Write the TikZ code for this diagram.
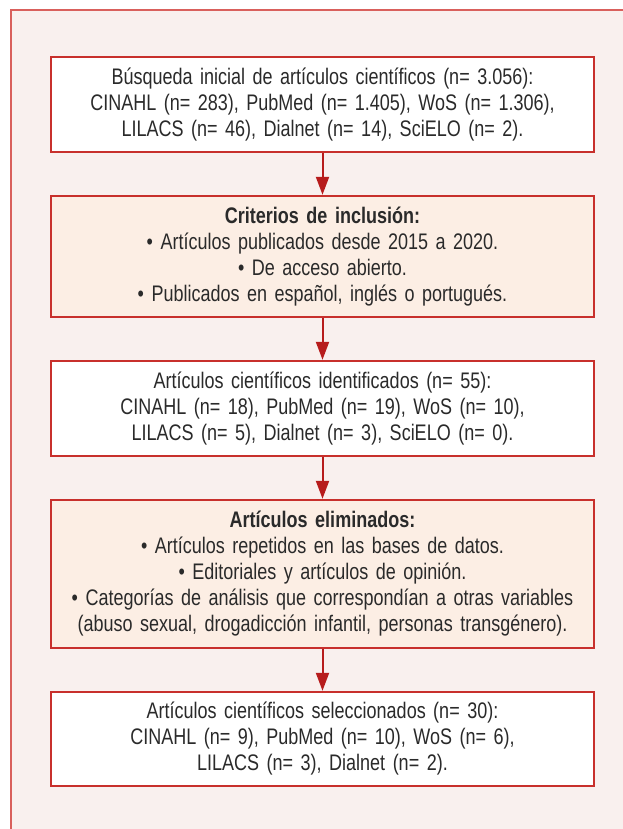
\documentclass[tikz,border=0pt]{standalone}
\usepackage{fontspec}
\setmainfont[FakeStretch=0.8]{Liberation Sans}
\usetikzlibrary{arrows.meta}
\definecolor{panelbg}{HTML}{F9F0EE}
\definecolor{panelline}{HTML}{D9605C}
\definecolor{boxline}{HTML}{C8302C}
\definecolor{peach}{HTML}{FCEEE4}
\definecolor{arrowred}{HTML}{B71C1C}
\definecolor{txt}{HTML}{2A2A2A}
\tikzset{
  x=1pt, y=1pt,
  flowbox/.style={draw=boxline, line width=1.4pt, fill=white, minimum width=543pt,
    text width=535pt, align=center, inner sep=0pt, text=txt,
    font=\fontsize{22.5}{26}\selectfont},
  critbox/.style={flowbox, fill=peach},
  flowarrow/.style={draw=arrowred, line width=2pt, -{Triangle[width=13pt,length=18pt]}, shorten >=0.5pt}
}
\begin{document}
\begin{tikzpicture}
\useasboundingbox (0,0) rectangle (623,-829);
\fill[panelbg] (11,-10) rectangle (623,-829);
\draw[panelline, line width=1.2pt] (11,-829) -- (11,-10) -- (623,-10);

\node[flowbox, minimum height=95pt] (b1) at (322.5,-104.5)
  {Búsqueda inicial de artículos científicos (n= 3.056):\\
   CINAHL (n= 283), PubMed (n= 1.405), WoS (n= 1.306),\\
   LILACS (n= 46), Dialnet (n= 14), SciELO (n= 2).};

\node[critbox, minimum height=121pt] (b2) at (322.5,-256.5)
  {\textbf{Criterios de inclusión:}\\
   • Artículos publicados desde 2015 a 2020.\\
   • De acceso abierto.\\
   • Publicados en español, inglés o portugués.};

\node[flowbox, minimum height=95pt] (b3) at (322.5,-408.5)
  {Artículos científicos identificados (n= 55):\\
   CINAHL (n= 18), PubMed (n= 19), WoS (n= 10),\\
   LILACS (n= 5), Dialnet (n= 3), SciELO (n= 0).};

\node[critbox, minimum height=148pt] (b4) at (322.5,-574)
  {\textbf{Artículos eliminados:}\\
   • Artículos repetidos en las bases de datos.\\
   • Editoriales y artículos de opinión.\\
   • Categorías de análisis que correspondían a otras variables\\
   (abuso sexual, drogadicción infantil, personas transgénero).};

\node[flowbox, minimum height=94pt] (b5) at (322.5,-739)
  {Artículos científicos seleccionados (n= 30):\\
   CINAHL (n= 9), PubMed (n= 10), WoS (n= 6),\\
   LILACS (n= 3), Dialnet (n= 2).};

\draw[flowarrow] (b1) -- (b2);
\draw[flowarrow] (b2) -- (b3);
\draw[flowarrow] (b3) -- (b4);
\draw[flowarrow] (b4) -- (b5);
\end{tikzpicture}
\end{document}
